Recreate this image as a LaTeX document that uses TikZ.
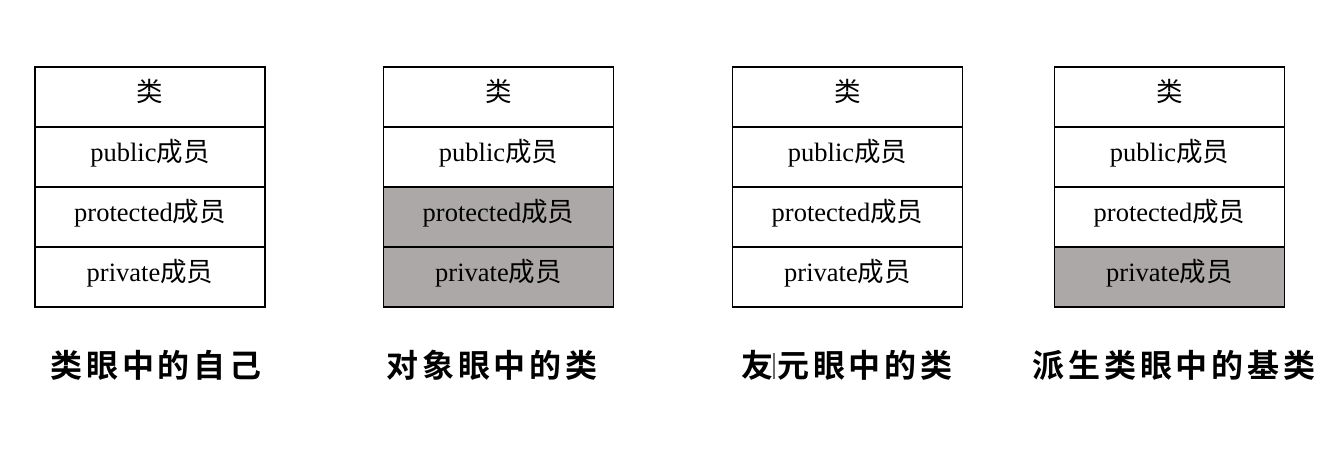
\documentclass[tikz,border=0pt]{standalone}
\usepackage{fontspec}
\setmainfont{Liberation Serif}
\newfontfamily\cjk{Noto Sans CJK SC}
\newfontfamily\cjkcap[LetterSpace=12]{Noto Sans CJK SC Bold}
\definecolor{shade}{RGB}{172,168,168}
\definecolor{cursor}{RGB}{110,110,110}
\tikzset{
  cell/.style={draw=black, line width=1.3pt, minimum width=230pt, minimum height=60pt,
    inner sep=0pt, outer sep=0pt, font=\fontsize{26.5}{26.5}\selectfont},
  dark/.style={cell, fill=shade},
  caption/.style={inner sep=0pt, font=\fontsize{32}{32}\selectfont\cjkcap}
}
\newcommand{\cel}[1]{\raisebox{13pt}{#1}}
\begin{document}
\begin{tikzpicture}[x=1pt,y=-1pt]
\useasboundingbox (0,0) rectangle (1342,475);
% table 1
\node[cell] (a1) at (150,97) {\cel{\cjk 类}};
\node[cell] (a2) at (150,157) {\cel{public{\cjk 成员}}};
\node[cell] (a3) at (150,217) {\cel{protected{\cjk 成员}}};
\node[cell] (a4) at (150,277) {\cel{private{\cjk 成员}}};
\node[caption] (ca) at (156,365) {类眼中的自己};
% table 2
\node[cell] (b1) at (498.5,97) {\cel{\cjk 类}};
\node[cell] (b2) at (498.5,157) {\cel{public{\cjk 成员}}};
\node[dark] (b3) at (498.5,217) {\cel{protected{\cjk 成员}}};
\node[dark] (b4) at (498.5,277) {\cel{private{\cjk 成员}}};
\node[caption] (cb) at (492,365) {对象眼中的类};
% table 3
\node[cell] (c1) at (847.5,97) {\cel{\cjk 类}};
\node[cell] (c2) at (847.5,157) {\cel{public{\cjk 成员}}};
\node[cell] (c3) at (847.5,217) {\cel{protected{\cjk 成员}}};
\node[cell] (c4) at (847.5,277) {\cel{private{\cjk 成员}}};
\node[caption] (cc) at (847,365) {友元眼中的类};
\coordinate (k1) at (774,353);
\coordinate (k2) at (774,379);
\draw[cursor, line width=1.2pt] (k1) -- (k2);
% table 4
\node[cell] (d1) at (1169.5,97) {\cel{\cjk 类}};
\node[cell] (d2) at (1169.5,157) {\cel{public{\cjk 成员}}};
\node[cell] (d3) at (1169.5,217) {\cel{protected{\cjk 成员}}};
\node[dark] (d4) at (1169.5,277) {\cel{private{\cjk 成员}}};
\node[caption] (cd) at (1174,365) {派生类眼中的基类};
\end{tikzpicture}
\end{document}
